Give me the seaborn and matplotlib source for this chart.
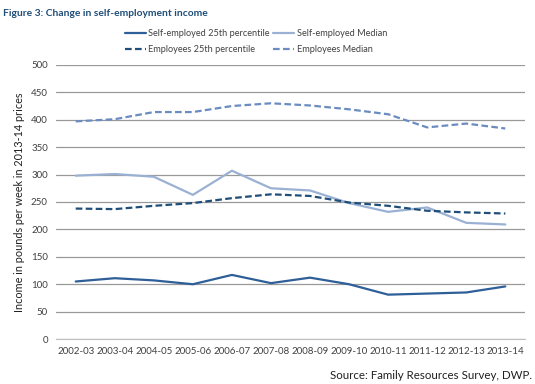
import seaborn as sns
import matplotlib.pyplot as plt
import pandas as pd
from matplotlib.lines import Line2D

years = ['2002-03', '2003-04', '2004-05', '2005-06', '2006-07', '2007-08',
         '2008-09', '2009-10', '2010-11', '2011-12', '2012-13', '2013-14']
se_p25 = [105, 111, 107, 100, 117, 102, 112, 100, 81, 83, 85, 96]
se_median = [298, 301, 296, 263, 307, 275, 271, 248, 232, 240, 212, 209]
emp_p25 = [238, 237, 243, 248, 257, 264, 261, 249, 243, 234, 231, 229]
emp_median = [397, 401, 414, 414, 425, 430, 426, 419, 410, 386, 393, 384]

series = {
    'Self-employed 25th percentile': se_p25,
    'Self-employed Median': se_median,
    'Employees 25th percentile': emp_p25,
    'Employees Median': emp_median,
}
df = pd.DataFrame([
    {'year': y, 'income': v, 'series': name}
    for name, vals in series.items() for y, v in zip(years, vals)
])

palette = {
    'Self-employed 25th percentile': '#2f5f98',
    'Self-employed Median': '#9bb1d4',
    'Employees 25th percentile': '#1f4e79',
    'Employees Median': '#6b8cc0',
}
dashes = {
    'Self-employed 25th percentile': '',
    'Self-employed Median': '',
    'Employees 25th percentile': (3, 1.5),
    'Employees Median': (3, 1.5),
}

sns.set_style('white')
plt.rcParams['font.family'] = ['Lato', 'DejaVu Sans']

fig = plt.figure(figsize=(5.35, 3.84), dpi=100)
ax = fig.add_axes([0.105, 0.117, 0.876, 0.714])

sns.lineplot(data=df, x='year', y='income', hue='series', style='series',
             palette=palette, dashes=dashes, sort=False, linewidth=1.6,
             ax=ax, legend=False)

ax.set_ylim(0, 500)
ax.set_yticks(range(0, 501, 50))
ax.set_xlim(-0.5, len(years) - 0.5)
ax.grid(axis='y', color='#999999', linewidth=0.9)
ax.set_axisbelow(True)
for s in ['top', 'right', 'left']:
    ax.spines[s].set_visible(False)
ax.spines['bottom'].set_color('#bfbfbf')
ax.tick_params(axis='both', labelsize=7, colors='#404040', length=0, pad=6)
ax.set_xticks([i - 0.5 for i in range(len(years) + 1)], minor=True)
ax.tick_params(axis='x', which='minor', length=4, color='#bfbfbf', direction='out')
ax.set_xlabel('')
ax.set_ylabel('Income in pounds per week in 2013-14 prices', fontsize=7.8,
              color='#202020', labelpad=4)

# legend in the order of the reference (two rows)
order = ['Self-employed 25th percentile', 'Employees 25th percentile',
         'Self-employed Median', 'Employees Median']
handles = [Line2D([], [], color=palette[n], lw=1.6,
                  linestyle='-' if dashes[n] == '' else (0, dashes[n]))
           for n in order]
fig.legend(handles, order, loc='center', bbox_to_anchor=(0.478, 0.892), ncol=2,
           frameon=False, fontsize=6.6, handlelength=2.3, handletextpad=0.3,
           columnspacing=0.3, labelspacing=0.75, labelcolor='#404040')

fig.text(0.005, 0.965, 'Figure 3: Change in self-employment income',
         fontsize=7.4, fontweight='bold', color='#1f4e79', va='center')
fig.text(0.995, 0.022, 'Source: Family Resources Survey, DWP.',
         fontsize=8.3, color='#202020', ha='right', va='center')

fig.savefig('out.png', dpi=100)
